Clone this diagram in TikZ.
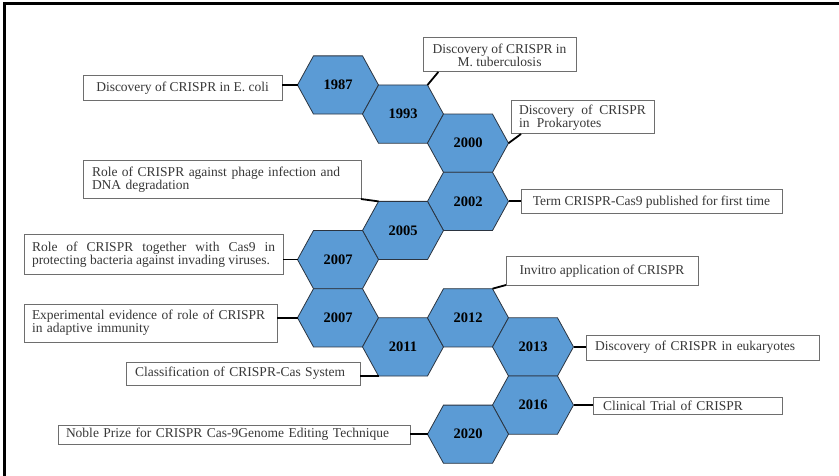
\documentclass[tikz,border=0pt]{standalone}
\usepackage{fontspec}
\setmainfont{Liberation Serif}
\usetikzlibrary{calc}
\definecolor{hexblue}{HTML}{5B9BD5}
\definecolor{hexline}{HTML}{2B3440}
\definecolor{boxline}{HTML}{6E6E6E}
\definecolor{notetext}{HTML}{383838}
\tikzset{
  hexcell/.style={fill=hexblue, draw=hexline, line width=0.8pt},
  year/.style={font=\fontsize{14.5}{16}\selectfont\bfseries, text=black, inner sep=0pt},
  note/.style={draw=boxline, fill=white, line width=1pt, anchor=north west, outer sep=0pt,
    inner xsep=8pt, inner ysep=2pt, align=left, text=notetext, font=\fontsize{13.5}{13}\selectfont},
  link/.style={line width=1.8pt, black},
}

\begin{document}
\begin{tikzpicture}[x=1pt, y=-1pt]
  \useasboundingbox (0,0) rectangle (839,476);
  \draw[line width=3pt] (4.5,476) -- (4.5,3.5) -- (839,3.5);

  \foreach \n/\c/\r/\yr in {y1987/0/0/1987, y1993/1/1/1993, y2000/2/2/2000, y2002/2/4/2002,
      y2005/1/5/2005, y2007a/0/6/2007, y2007b/0/8/2007, y2011/1/9/2011,
      y2012/2/8/2012, y2013/3/9/2013, y2016/3/11/2016, y2020/2/12/2020} {
    \coordinate (\n) at ({338+65*\c},{85+29.1*\r});
    \coordinate (\n-w)  at ($(\n)+(-40.5,0)$);
    \coordinate (\n-e)  at ($(\n)+(40.5,0)$);
    \coordinate (\n-nw) at ($(\n)+(-24.5,-29.1)$);
    \coordinate (\n-ne) at ($(\n)+(24.5,-29.1)$);
    \coordinate (\n-sw) at ($(\n)+(-24.5,29.1)$);
    \coordinate (\n-se) at ($(\n)+(24.5,29.1)$);
    \draw[hexcell] (\n-w) -- (\n-nw) -- (\n-ne) -- (\n-e) -- (\n-se) -- (\n-sw) -- cycle;
    \node[year] (\n-yr) at (\n) {\yr};
  }

  \node[note, minimum width=199, minimum height=25] (ecoli) at (83,76) {Discovery of CRISPR in E. coli};
  \node[note, align=center, minimum width=153, minimum height=34] (mtb) at (423,38) {Discovery of CRISPR in\\M. tuberculosis};
  \node[note, text width=127, align=justify, minimum height=33] (prok) at (511,101) {Discovery of CRISPR\linebreak in\hspace{4pt} Prokaryotes};
  \node[note, inner xsep=9, text width=260, minimum height=38] (phage) at (83,161) {Role of CRISPR against phage infection and\\DNA degradation};
  \node[note, minimum width=261, minimum height=24] (term) at (521,190) {Term CRISPR-Cas9 published for first time};
  \node[note, text width=243, align=justify, minimum height=39] (cas9) at (24,235) {Role of CRISPR together with Cas9 in\linebreak protecting bacteria against invading viruses.};
  \node[note, text width=237, minimum height=38] (exper) at (24,304) {Experimental evidence of role of CRISPR\\in adaptive immunity};
  \node[note, inner xsep=9, text width=216, minimum height=23] (classif) at (126,362) {Classification of CRISPR-Cas System};
  \node[note, minimum width=192, minimum height=28] (invitro) at (506,257) {Invitro application of CRISPR};
  \node[note, inner xsep=9, text width=215, minimum height=25] (euk) at (586,335) {Discovery of CRISPR in eukaryotes};
  \node[note, inner xsep=10, text width=169, minimum height=17] (clin) at (593,397) {Clinical Trial of CRISPR};
  \node[note, text width=336, minimum height=19] (noble) at (58,425) {Noble Prize for CRISPR Cas-9Genome Editing Technique};

  \draw[link] (y1987-w) -- (y1987-w -| ecoli.east);
  \draw[link] (y1993-ne) -- ($(mtb.south west)!0.1!(mtb.south east)$);
  \draw[link] (y2000-e) -- ($(prok.south west)!0.07!(prok.south east)$);
  \draw[link] (y2005-nw) -- (phage.south east);
  \draw[link] (y2002-e) -- (y2002-e -| term.west);
  \draw[link] (y2007a-w) -- (y2007a-w -| cas9.east);
  \draw[link] (y2007b-w) -- (y2007b-w -| exper.east);
  \draw[link] (y2011-sw) -- (y2011-sw -| classif.east);
  \draw[link] (y2012-ne) -- (invitro.south west);
  \draw[link] (y2013-e) -- (y2013-e -| euk.west);
  \draw[link] (y2016-e) -- (y2016-e -| clin.west);
  \draw[link] (y2020-w) -- (y2020-w -| noble.east);
\end{tikzpicture}
\end{document}
